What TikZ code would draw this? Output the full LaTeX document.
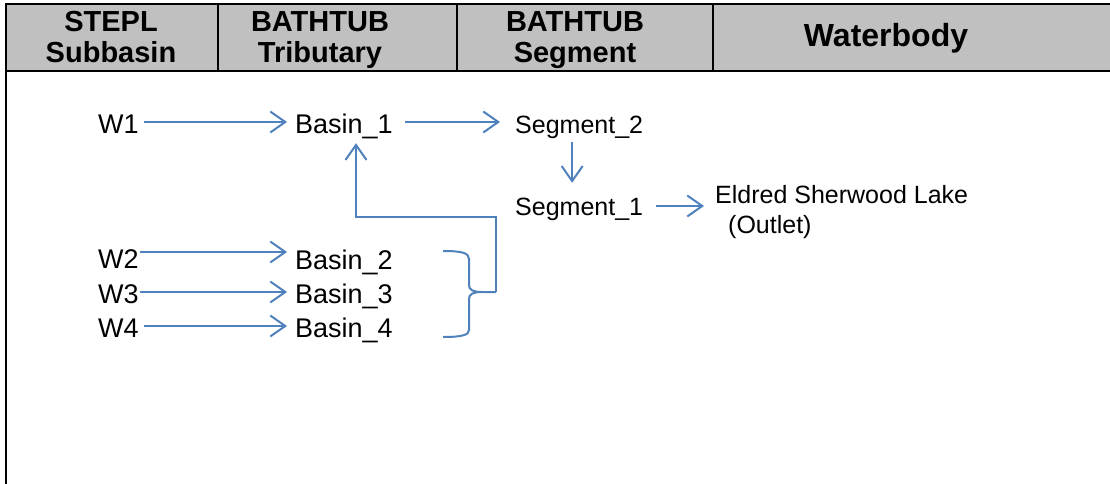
\documentclass[tikz,border=0pt]{standalone}
\usepackage{fontspec}
\setmainfont{Liberation Sans}
\usetikzlibrary{arrows.meta}
\definecolor{flow}{HTML}{4F81BD}
\definecolor{hdrgray}{HTML}{C0C0C0}
\begin{document}
\begin{tikzpicture}[x=1pt,y=-1pt,
  hdr/.style={font=\fontsize{29}{31}\selectfont\bfseries, align=center, inner sep=0pt},
  lbl/.style={font=\fontsize{27}{31}\selectfont, inner sep=0pt, anchor=base west, text height=22pt, text depth=0pt},
  slbl/.style={font=\fontsize{25}{30}\selectfont, inner sep=0pt, anchor=base west, text height=22pt, text depth=0pt},
  arr/.style={draw=flow, line width=2pt, -{Straight Barb[length=15pt,width=21pt,line width=2pt]}},
  lnk/.style={draw=flow, line width=2pt},
  rule/.style={draw=black, line width=2pt}]
\useasboundingbox (0,0) rectangle (1110,484);
% header band
\fill[hdrgray] (5.5,4) rectangle (1110,71);
\draw[rule] (1110,4) -- (5.5,4) -- (5.5,484);
\draw[rule] (5.5,71) -- (1110,71);
\draw[rule] (218,4) -- (218,71);
\draw[rule] (457,4) -- (457,71);
\draw[rule] (713,4) -- (713,71);
% header texts
\node[hdr, anchor=base] (h1a) at (111,32) {STEPL};
\node[hdr, anchor=base] (h1b) at (111,63) {Subbasin};
\node[hdr, anchor=base] (h2a) at (320,32) {BATHTUB};
\node[hdr, anchor=base] (h2b) at (320,63) {Tributary};
\node[hdr, anchor=base] (h3a) at (575,32) {BATHTUB};
\node[hdr, anchor=base] (h3b) at (575,63) {Segment};
\node[hdr, anchor=base, font=\fontsize{32}{34}\selectfont\bfseries] (h4) at (886,47) {Waterbody};
% labels
\node[lbl] (w1) at (98,134) {W1};
\node[lbl] (b1) at (295,134) {Basin\_1};
\node[slbl] (s2) at (515,133) {Segment\_2};
\node[slbl] (s1) at (515,215) {Segment\_1};
\node[slbl, align=left, anchor=base west, text height=18pt] (lake) at (715,233) {Eldred Sherwood Lake\\\hspace*{13pt}(Outlet)};
\node[lbl] (w2) at (98,268) {W2};
\node[lbl] (b2) at (295,269) {Basin\_2};
\node[lbl] (w3) at (98,303) {W3};
\node[lbl] (b3) at (295,303) {Basin\_3};
\node[lbl] (w4) at (98,337) {W4};
\node[lbl] (b4) at (295,337) {Basin\_4};
% arrows
\draw[arr] ([xshift=5pt,yshift=1pt]w1.east) -- ([xshift=-8pt,yshift=1pt]b1.west);
\draw[arr] ([xshift=12pt,yshift=1pt]b1.east) -- ([xshift=-15pt,yshift=0pt]s2.west);
\draw[arr] ([xshift=-7pt,yshift=-9pt]s2.south) -- ([xshift=-7pt,yshift=10pt]s1.north);
\draw[arr] ([xshift=13pt,yshift=-2pt]s1.east) -- ([xshift=-11pt,yshift=-2pt]s1.east -| lake.west);
\draw[arr] ([xshift=1pt,yshift=5pt]w2.east) -- ([xshift=-8pt,yshift=5pt]w2.east -| b2.west);
\draw[arr] ([xshift=1pt]w3.east) -- ([xshift=-8pt]b3.west);
\draw[arr] ([xshift=5pt]w4.east) -- ([xshift=-8pt]b4.west);
% brace
\coordinate (bt) at (496,292);
\coordinate (cusp) at (482,292);
\coordinate (elbow) at (496,217);
\draw[lnk, line join=round] (443,251) .. controls (462,251) and (469,253) .. (469,259) -- (469,285) .. controls (469,290) and (473,292) .. (cusp) -- (bt);
\draw[lnk, line join=round] (cusp) .. controls (473,292) and (469,294) .. (469,299) -- (469,330) .. controls (469,335) and (462,337) .. (443,337);
% link from brace to Basin_1
\draw[arr] (bt) -- (elbow) -| ([xshift=12pt,yshift=-9pt]b1.south);
\end{tikzpicture}
\end{document}
